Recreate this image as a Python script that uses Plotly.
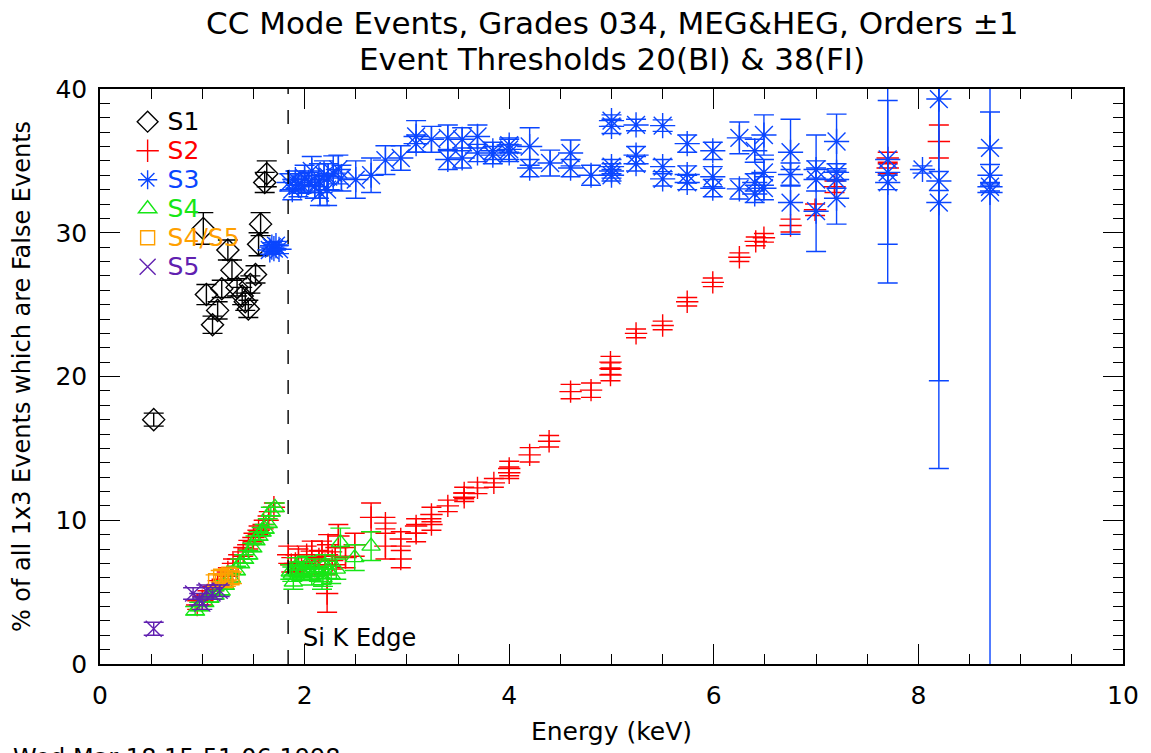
import plotly.graph_objects as go

# ---- data: percentage of 1x3 events that are false, per CCD chip ----
s1_energy = [0.525, 1.01, 1.04, 1.10, 1.15, 1.19, 1.25, 1.29, 1.34, 1.39, 1.42, 1.45,
             1.47, 1.52, 1.55, 1.57, 1.61, 1.63]
s1_pct = [17.0, 30.3, 25.7, 23.6, 24.6, 26.1, 28.8, 27.4, 26.2, 25.6, 25.2, 24.7,
          26.4, 27.1, 29.2, 30.6, 33.5, 34.1]
s1_err = [0.45, 1.1, 0.7, 0.6, 0.6, 0.6, 0.7, 0.7, 0.6, 0.6, 0.6, 0.6,
          0.6, 0.6, 0.8, 0.8, 0.7, 0.9]

s2_energy = [0.95, 1.00, 1.05, 1.10, 1.15, 1.20, 1.25, 1.30, 1.35, 1.40, 1.45, 1.50,
             1.55, 1.60, 1.65, 1.70,
             1.84, 1.87, 1.91, 1.94, 1.97, 2.02, 2.07, 2.10, 2.14, 2.17, 2.20, 2.22,
             2.23, 2.27, 2.30, 2.33, 2.40, 2.49, 2.65, 2.79, 2.79, 2.94, 2.94, 3.09,
             3.09, 3.24, 3.24, 3.40, 3.56, 3.56, 3.69, 3.85, 4.00, 4.00, 4.20, 4.39,
             4.60, 4.80, 4.99, 4.99, 4.99, 5.24, 5.50, 5.74, 5.99, 6.25, 6.41, 6.49,
             6.75, 6.99, 7.18, 7.70, 7.70, 8.20]
s2_pct = [4.1, 4.4, 4.8, 5.1, 5.5, 5.9, 6.4, 7.0, 7.3, 7.8, 8.3, 8.8,
          9.3, 9.7, 10.3, 10.9,
          7.6, 6.9, 7.0, 7.4, 6.6, 7.6, 7.85, 6.8, 7.3, 7.85, 6.9, 4.9,
          8.3, 7.2, 7.5, 8.9, 7.4, 8.3, 10.2, 9.8, 8.2, 8.7, 7.3, 9.6,
          9.1, 10.4, 9.7, 11.0, 11.9, 11.6, 12.25, 12.6, 13.6, 13.3, 14.55, 15.5,
          18.95, 19.05, 21.0, 20.55, 20.1, 23.0, 23.55, 25.2, 26.55, 28.3, 29.4, 29.65,
          30.5, 31.6, 33.2, 35.2, 34.5, 36.35]
s2_err = [0.3, 0.3, 0.3, 0.3, 0.3, 0.3, 0.3, 0.3, 0.3, 0.3, 0.3, 0.3,
          0.3, 0.3, 0.3, 0.3,
          0.6, 0.5, 0.6, 0.6, 0.5, 0.6, 0.7, 0.6, 0.6, 0.7, 0.6, 1.3,
          0.7, 0.6, 0.6, 0.8, 0.7, 0.8, 1.0, 0.4, 0.9, 0.5, 0.6, 0.5,
          0.6, 0.5, 0.4, 0.4, 0.4, 0.3, 0.4, 0.3, 0.5, 0.4, 0.5, 0.4,
          0.5, 0.5, 0.4, 0.4, 0.4, 0.3, 0.3, 0.3, 0.3, 0.3, 0.3, 0.3,
          0.45, 0.4, 0.4, 0.4, 0.4, 1.15]

s3_energy = [1.66, 1.68, 1.70, 1.72, 1.75,
             1.85, 1.88, 1.91, 1.94, 1.97, 2.00, 2.04, 2.07, 2.10, 2.14, 2.15, 2.19,
             2.22, 2.23, 2.28, 2.33, 2.36,
             2.50, 2.65, 2.79, 2.94, 3.09, 3.09, 3.24, 3.40, 3.40, 3.54, 3.54, 3.69,
             3.69, 3.84, 3.84, 4.00, 4.00, 4.00, 4.20, 4.20, 4.40, 4.60, 4.60, 4.80,
             5.00, 5.00, 5.00, 5.00, 5.00, 5.24, 5.24, 5.24, 5.50, 5.50, 5.50,
             5.74, 5.74, 5.74, 5.99, 5.99, 5.99, 6.25, 6.25, 6.40, 6.40, 6.40,
             6.49, 6.49, 6.49, 6.75, 6.75, 6.75, 7.00, 7.00, 7.00,
             7.20, 7.20, 7.20, 7.20, 7.70, 7.70, 7.70, 8.04,
             8.20, 8.20, 8.20, 8.70, 8.70, 8.70, 8.70]
s3_pct = [28.8, 29.0, 28.9, 29.1, 28.85,
          33.5, 33.0, 33.7, 33.3, 33.35, 33.8, 33.5, 34.3, 33.2, 33.6, 32.8, 34.0,
          33.0, 33.9, 34.15, 34.4, 33.8,
          33.7, 34.0, 35.05, 35.2, 36.7, 36.2, 36.5, 36.6, 35.1, 36.5, 35.2, 36.7,
          35.55, 35.7, 35.4, 35.8, 35.55, 36.1, 36.0, 34.5, 34.85, 35.55, 34.5, 34.0,
          37.8, 37.4, 34.6, 34.3, 34.0, 37.5, 35.4, 34.8, 37.45, 34.6, 33.75,
          36.2, 34.05, 33.5, 35.7, 33.9, 33.1, 36.6, 33.05, 35.7, 33.5, 32.7,
          36.8, 34.2, 33.1, 35.6, 34.05, 32.1, 34.4, 33.7, 31.5,
          36.35, 34.2, 33.7, 32.4, 35.1, 34.2, 33.5, 34.4,
          39.3, 33.6, 32.1, 35.9, 34.0, 33.2, 32.8]
s3_err_plus = [0.3, 0.3, 0.3, 0.3, 0.3,
               0.6, 0.7, 0.6, 0.8, 0.6, 0.9, 0.7, 1.0, 0.8, 1.2, 0.9, 1.0,
               1.1, 0.9, 1.2, 1.0, 0.9,
               1.3, 1.2, 1.0, 0.85, 1.1, 0.6, 0.9, 0.9, 0.7, 0.8, 0.7, 0.8,
               0.6, 0.6, 0.6, 0.7, 0.6, 0.5, 1.3, 0.6, 0.9, 0.9, 0.6, 0.7,
               0.4, 0.5, 0.5, 0.5, 0.4, 0.4, 0.6, 0.5, 0.4, 0.5, 0.5,
               0.6, 0.6, 0.5, 0.6, 0.7, 0.6, 1.1, 0.7, 0.8, 0.6, 0.6,
               1.4, 0.9, 0.8, 2.3, 0.8, 2.3, 0.6, 0.8, 5.3,
               1.9, 0.6, 0.6, 1.8, 8.6, 5.0, 0.5, 0.25,
               25.7, 0.66, 12.4, 2.5, 0.75, 0.3, 40.0]
s3_err_minus = [0.3, 0.3, 0.3, 0.3, 0.3,
                0.6, 0.7, 0.6, 0.8, 0.6, 0.9, 0.7, 1.0, 0.8, 1.2, 0.9, 1.0,
                1.1, 0.9, 1.2, 1.0, 0.9,
                1.3, 1.2, 1.0, 0.85, 1.1, 0.6, 0.9, 0.9, 0.7, 0.8, 0.7, 0.8,
                0.6, 0.6, 0.6, 0.7, 0.6, 0.5, 1.3, 0.6, 0.9, 0.9, 0.6, 0.7,
                0.4, 0.5, 0.5, 0.5, 0.4, 0.4, 0.6, 0.5, 0.4, 0.5, 0.5,
                0.6, 0.6, 0.5, 0.6, 0.7, 0.6, 1.1, 0.7, 0.8, 0.6, 0.6,
                1.4, 0.9, 0.8, 2.3, 0.8, 2.2, 0.6, 0.8, 2.8,
                1.9, 0.6, 0.6, 1.8, 8.6, 5.0, 0.5, 0.25,
                25.7, 0.66, 12.4, 2.5, 0.75, 0.3, 40.0]

s4_energy = [0.93, 0.97, 1.02, 1.07, 1.12, 1.18, 1.22, 1.28, 1.33, 1.37, 1.41, 1.45,
             1.49, 1.52, 1.55, 1.58, 1.61, 1.64, 1.67, 1.71,
             1.86, 1.88, 1.89, 1.92, 1.94, 1.97, 1.99, 2.02, 2.05, 2.07, 2.10, 2.14,
             2.17, 2.18, 2.20, 2.23, 2.26, 2.31, 2.35, 2.49, 2.65]
s4_pct = [3.7, 4.0, 4.3, 4.6, 4.8, 5.1, 5.5, 6.0, 6.5, 7.0, 7.3, 7.6,
          8.1, 8.6, 8.9, 9.2, 9.4, 9.8, 10.6, 10.9,
          6.4, 6.25, 5.7, 6.8, 6.6, 6.3, 6.5, 6.9, 6.4, 6.1, 6.7, 6.25,
          5.8, 6.0, 6.9, 6.55, 6.2, 6.6, 8.45, 7.4, 8.2]
s4_err = [0.3, 0.3, 0.3, 0.3, 0.3, 0.3, 0.3, 0.3, 0.3, 0.3, 0.3, 0.3,
          0.3, 0.3, 0.3, 0.3, 0.3, 0.3, 0.3, 0.3,
          0.5, 0.5, 0.5, 0.6, 0.5, 0.5, 0.6, 0.6, 0.5, 0.6, 0.6, 0.5,
          0.6, 0.6, 0.7, 0.6, 0.6, 0.7, 1.0, 0.9, 1.0]

s45_energy = [1.13, 1.18, 1.23, 1.26, 1.29]
s45_pct = [5.8, 6.1, 5.8, 6.25, 6.0]
s45_err = [0.4, 0.4, 0.4, 0.4, 0.4]

s5_energy = [0.525, 0.91, 0.97, 1.00, 1.04, 1.10, 1.17]
s5_pct = [2.45, 4.9, 4.5, 4.2, 5.1, 4.9, 5.1]
s5_err = [0.45, 0.4, 0.4, 0.4, 0.4, 0.4, 0.4]

si_k_edge = 1.839

FONT = "DejaVu Sans"

fig = go.Figure()


def add_chip(name, color, xs, ys, err_hi, err_lo, symbol, size):
    fig.add_trace(go.Scatter(
        x=xs, y=ys, mode="markers",
        name=f"<span style='color:{color};font-size:25px'>{name}</span>",
        marker=dict(symbol=symbol, size=size, color=color,
                    line=dict(color=color, width=1.4)),
        error_y=dict(type="data", symmetric=False, array=err_hi, arrayminus=err_lo,
                     color=color, thickness=1.4, width=10),
        cliponaxis=True,
    ))


add_chip("S1", "#000000", s1_energy, s1_pct, s1_err, s1_err, "diamond-open", 17)
add_chip("S2", "#ff0000", s2_energy, s2_pct, s2_err, s2_err, "cross-thin-open", 16)
add_chip("S3", "#0a46ff", s3_energy, s3_pct, s3_err_plus, s3_err_minus, "asterisk-open", 21)
add_chip("S4", "#16e616", s4_energy, s4_pct, s4_err, s4_err, "triangle-up-open", 16)
add_chip("S4/S5", "#ffa000", s45_energy, s45_pct, s45_err, s45_err, "square-open", 14)
add_chip("S5", "#6020b0", s5_energy, s5_pct, s5_err, s5_err, "x-thin-open", 16)

# Si K absorption edge
fig.add_shape(type="line", x0=si_k_edge, x1=si_k_edge, y0=0, y1=40,
              xref="x", yref="y", line=dict(color="black", width=1.4, dash="14px,16px"))
fig.add_annotation(x=si_k_edge + 0.13, y=1.8, xref="x", yref="y", text="Si K Edge",
                   showarrow=False, xanchor="left", yanchor="middle",
                   font=dict(family=FONT, size=24, color="black"))

# two-line title
fig.add_annotation(x=0.5, y=(667 - 23) / 578, xref="paper", yref="paper",
                   text="CC Mode Events, Grades 034, MEG&HEG, Orders \u00b11",
                   showarrow=False, xanchor="center", yanchor="middle",
                   font=dict(family=FONT, size=31, color="black"))
fig.add_annotation(x=0.5, y=(667 - 59) / 578, xref="paper", yref="paper",
                   text="Event Thresholds 20(BI) & 38(FI)",
                   showarrow=False, xanchor="center", yanchor="middle",
                   font=dict(family=FONT, size=31, color="black"))

# plot timestamp at the lower left
fig.add_annotation(x=(10 - 100) / 1030, y=(667 - 745) / 578, xref="paper", yref="paper",
                   text="Wed Mar 18 15:51:06 1998", showarrow=False,
                   xanchor="left", yanchor="top",
                   font=dict(family=FONT, size=24, color="black"))

axis_common = dict(
    showline=True, linecolor="black", linewidth=1.5, mirror="ticks",
    ticks="inside", ticklen=20, tickwidth=1.4, tickcolor="black",
    showgrid=False, zeroline=False,
    tickfont=dict(family=FONT, size=25, color="black"),
)

fig.update_layout(
    width=1151, height=753,
    margin=dict(l=100, r=21, t=89, b=86),
    paper_bgcolor="white", plot_bgcolor="white",
    font=dict(family=FONT, color="black"),
    xaxis=dict(range=[0, 10], tick0=0, dtick=2,
               minor=dict(dtick=0.5, ticklen=10, ticks="inside", tickwidth=1.2,
                          tickcolor="black"),
               title=dict(text="Energy (keV)", font=dict(family=FONT, size=25), standoff=14),
               ticklabelstandoff=8,
               **axis_common),
    yaxis=dict(range=[0, 40], tick0=0, dtick=10,
               minor=dict(dtick=1, ticklen=10, ticks="inside", tickwidth=1.2,
                          tickcolor="black"),
               title=dict(text="% of all 1x3 Events which are False Events",
                          font=dict(family=FONT, size=24), standoff=18),
               ticklabelstandoff=6,
               **axis_common),
    showlegend=True,
    legend=dict(x=0.027, y=0.977, xanchor="left", yanchor="top",
                bgcolor="rgba(0,0,0,0)", borderwidth=0,
                font=dict(family=FONT, size=20), tracegroupgap=0,
                itemsizing="trace"),
)

fig.write_html("out.html")
